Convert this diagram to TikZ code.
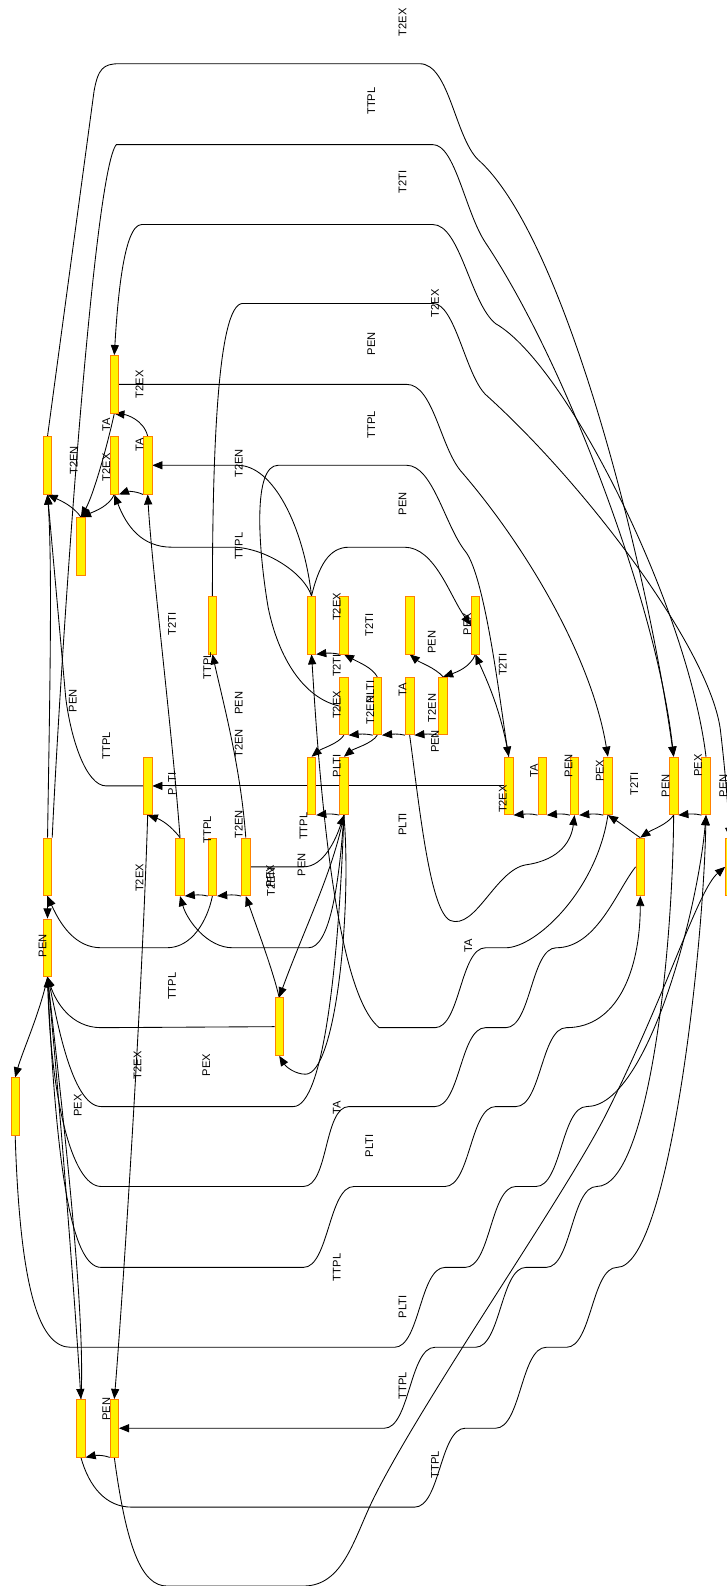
\documentclass[tikz,border=0pt]{standalone}
\usepackage{fontspec}
\setmainfont{Liberation Sans}
\usetikzlibrary{positioning}
\usetikzlibrary{arrows.meta}
\pgfdeclarelayer{wires}
\pgfsetlayers{wires,main}

\begin{document}
\begin{tikzpicture}[x = 1pt, y = -1pt,
	box/.style = {draw = orange, fill = yellow, line width = 0.7pt, minimum width = 8.5pt, minimum height = 57pt, inner sep = 0pt},
	lbl/.style = {rotate = 90, inner sep = 0pt, font = \fontsize{11}{12}\selectfont},
	plain/.style = {draw, black, line width = 0.85pt},
	edge/.style = {plain, -{Triangle[length = 10pt, width = 8pt]}}]
	\useasboundingbox (0, 0) rectangle (718, 1568);

	% nodes
	\node [box] (n01) at (113, 380) {};
	\node [box] (n02) at (47, 460) {};
	\node [box] (n03) at (113, 460) {};
	\node [box] (n04) at (146, 460) {};
	\node [box] (n05) at (80, 540) {};
	\node [box] (n06) at (210, 618) {};
	\node [box] (n07) at (308, 618) {};
	\node [box] (n08) at (340, 618) {};
	\node [box] (n09) at (405, 618) {};
	\node [box] (n10) at (470, 618) {};
	\node [box] (n11) at (340, 698) {};
	\node [box] (n12) at (373, 698) {};
	\node [box] (n13) at (405, 698) {};
	\node [box] (n14) at (438, 698) {};
	\node [box] (n15) at (146, 777) {};
	\node [box] (n16) at (308, 777) {};
	\node [box] (n17) at (340, 777) {};
	\node [box] (n18) at (503, 777) {};
	\node [box] (n19) at (536, 777) {};
	\node [box] (n20) at (568, 777) {};
	\node [box] (n21) at (601, 777) {};
	\node [box] (n22) at (666, 777) {};
	\node [box] (n23) at (698, 777) {};
	\node [box] (n24) at (47, 857) {};
	\node [box] (n25) at (178, 857) {};
	\node [box] (n26) at (210, 857) {};
	\node [box] (n27) at (243, 857) {};
	\node [box] (n28) at (633, 857) {};
	\node [box] (n29) at (721.5, 857) {};
	\node [box] (n30) at (47, 937) {};
	\node [box] (n31) at (276, 1015) {};
	\node [box] (n32) at (15, 1094) {};
	\node [box] (n33) at (80, 1412) {};
	\node [box] (n34) at (113, 1412) {};

	\begin{pgfonlayer}{wires}
	% short edges
	\draw [edge] (n04.north) .. controls (142, 415) and (125, 410) .. (n01.south);
	\draw [edge] (n01.south) .. controls (105, 445) and (92, 490) .. (n05.north);
	\draw [edge] (n04.south west) .. controls (133, 485) and (125, 486) .. (n03.south east);
	\draw [edge] (n03.south) .. controls (108, 500) and (95, 505) .. (n05.north);
	\draw [edge] (n05.north) .. controls (72, 500) and (60, 495) .. (n02.south);
	\draw [edge] (n07.north) .. controls (300, 565) and (260, 541) .. (230, 541) -- (170, 541) .. controls (140, 541) and (125, 520) .. (n03.south);
	\draw [edge] (n07.north) .. controls (300, 520) and (270, 460) .. (235, 460) -- (n04.east);
	\draw [edge] (n25.north) .. controls (170, 720) and (150, 560) .. (n04.south);
	\draw [edge] (n08.south west) .. controls (328, 645) and (320, 646) .. (n07.south east);
	\draw [edge] (n12.north) .. controls (368, 660) and (355, 655) .. (n08.south);
	\draw [edge] (n12.south west) .. controls (361, 725) and (353, 726) .. (n11.south east);
	\draw [edge] (n13.south west) .. controls (394, 725) and (386, 726) .. (n12.south east);
	\draw [edge] (n14.south west) .. controls (426, 725) and (418, 726) .. (n13.south east);
	\draw [edge] (n14.north) .. controls (430, 660) and (415, 655) .. (n09.south);
	\draw [edge] (n10.south) .. controls (465, 660) and (450, 665) .. (n14.north);
	\draw [edge] (n11.south) .. controls (335, 735) and (318, 740) .. (n16.north);
	\draw [edge] (n12.south) .. controls (368, 735) and (350, 740) .. (n17.north);
	\draw [edge] (n18.north) .. controls (495, 700) and (480, 670) .. (n10.south);
	\draw [edge] (n17.south west) .. controls (328, 804) and (320, 805) .. (n16.south east);
	\draw [edge] (n18.west) -- (n15.east);
	\draw [edge] (n19.south west) .. controls (525, 804) and (517, 805) .. (n18.south east);
	\draw [edge] (n20.south west) .. controls (557, 804) and (549, 805) .. (n19.south east);
	\draw [edge] (n21.south west) .. controls (590, 804) and (582, 805) .. (n20.south east);
	\draw [edge] (n23.south west) .. controls (687, 804) and (679, 805) .. (n22.south east);
	\draw [edge] (n28.north) .. controls (628, 825) and (615, 815) .. (n21.south);
	\draw [edge] (n22.south) .. controls (660, 815) and (645, 820) .. (n28.north);
	\draw [edge] (n26.south west) .. controls (199, 884) and (191, 885) .. (n25.south east);
	\draw [edge] (n27.south west) .. controls (232, 884) and (224, 885) .. (n26.south east);
	\draw [edge] (n27.north) .. controls (238, 760) and (222, 700) .. (n06.south);
	\draw [edge] (n27.east) -- (300, 857) .. controls (320, 857) and (332, 830) .. (n17.south);
	\draw [edge] (n17.south) .. controls (330, 860) and (300, 920) .. (n31.north);
	\draw [edge] (n31.north) .. controls (270, 960) and (255, 920) .. (n27.south);
	\draw [edge] (n17.south) .. controls (348, 900) and (332, 1062) .. (302, 1062) .. controls (292, 1062) and (283, 1055) .. (n31.south);
	\draw [edge] (n25.north) .. controls (168, 815) and (158, 810) .. (n15.south);
	\draw [edge] (n15.south) .. controls (140, 1000) and (120, 1300) .. (n34.north);
	\draw [edge] (n34.south west) .. controls (101, 1438) and (93, 1439) .. (n33.south east);
	\draw [edge] (n24.north) .. controls (49, 700) and (52, 560) .. (n02.south);
	\draw [edge] (n15.west) -- (105, 777) .. controls (85, 777) and (70, 730) .. (65, 690) -- (n02.south);
	\draw [edge] (n24.south) -- (n30.north);
	\draw [edge] (n30.south) .. controls (40, 1000) and (22, 1040) .. (n32.north);
	\draw [edge] (n30.south) .. controls (60, 1100) and (75, 1300) .. (n33.north);
	\draw [edge] (n33.north) .. controls (85, 1300) and (62, 1100) .. (n30.south);
	\draw [edge] (n13.south) .. controls (415, 800) and (425, 900) .. (445, 910) .. controls (470, 920) and (490, 860) .. (520, 855) .. controls (555, 850) and (565, 830) .. (n20.south);

	% long edges, top
	\draw [edge] (n02.north) -- (93, 90) .. controls (97, 68) and (102, 63) .. (118, 63) -- (415, 63) .. controls (445, 63) and (450, 140) .. (475, 160) .. controls (560, 240) and (640, 560) .. (n22.north);
	\draw [edge] (n24.north east) .. controls (60, 650) and (92, 170) .. (115, 143) -- (428, 143) .. controls (450, 143) and (460, 210) .. (480, 240) .. controls (560, 360) and (650, 600) .. (n22.north);
	\draw [edge] (n23.north) .. controls (680, 600) and (560, 360) .. (490, 320) .. controls (465, 300) and (455, 222) .. (428, 222) -- (140, 222) .. controls (122, 222) and (116, 300) .. (n01.north);
	\draw [edge] (n06.north) .. controls (210, 450) and (215, 300) .. (240, 300) -- (428, 300) .. controls (450, 300) and (460, 370) .. (480, 390) .. controls (580, 480) and (700, 640) .. (712, 720) .. controls (718, 770) and (720, 805) .. (n29.north);
	\draw [edge] (n01.east) -- (402, 380) .. controls (428, 380) and (435, 440) .. (455, 465) .. controls (520, 540) and (585, 650) .. (n21.north);
	\draw [edge] (n11.west) .. controls (300, 690) and (275, 650) .. (265, 600) .. controls (255, 540) and (250, 460) .. (275, 460) -- (402, 460) .. controls (428, 460) and (440, 520) .. (460, 545) .. controls (480, 570) and (495, 700) .. (n18.north);
	\draw [edge] (n07.north) .. controls (315, 560) and (325, 541) .. (345, 541) -- (400, 541) .. controls (430, 541) and (445, 590) .. (n10.west);

	% long edges, bottom
	\draw [edge] (n26.south) .. controls (205, 910) and (190, 937) .. (165, 937) -- (100, 937) .. controls (75, 937) and (60, 915) .. (n24.south);
	\draw [edge] (n17.south) .. controls (335, 880) and (325, 937) .. (305, 937) -- (230, 937) .. controls (205, 937) and (185, 910) .. (n25.south);
	\draw [edge] (n31.west) -- (100, 1016) .. controls (70, 1016) and (55, 990) .. (n30.south);
	\draw [edge] (n17.south) .. controls (335, 950) and (320, 1094) .. (290, 1094) -- (100, 1094) .. controls (70, 1094) and (55, 1000) .. (n30.south);
	\draw [edge] (n21.south) .. controls (590, 880) and (530, 937) .. (500, 937) -- (480, 937) .. controls (455, 937) and (455, 1016) .. (430, 1016) -- (375, 1016) .. controls (330, 980) and (315, 760) .. (n07.south);
	\draw [edge] (n28.west) .. controls (610, 880) and (590, 937) .. (550, 937) .. controls (525, 937) and (525, 1016) .. (500, 1016) -- (480, 1016) .. controls (455, 1016) and (455, 1094) .. (430, 1094) -- (345, 1094) .. controls (320, 1094) and (325, 1173) .. (300, 1173) -- (100, 1173) .. controls (70, 1173) and (50, 1080) .. (n30.south);
	\draw [edge] (n30.south) .. controls (55, 1150) and (70, 1253) .. (100, 1253) -- (300, 1253) .. controls (325, 1253) and (325, 1173) .. (350, 1173) -- (440, 1173) .. controls (465, 1173) and (465, 1094) .. (490, 1094) -- (510, 1094) .. controls (535, 1094) and (535, 1016) .. (560, 1016) .. controls (610, 1016) and (633, 960) .. (n28.south);
	\draw [edge] (n32.south) .. controls (20, 1280) and (40, 1332) .. (70, 1332) -- (390, 1332) .. controls (415, 1332) and (415, 1253) .. (440, 1253) -- (460, 1253) .. controls (485, 1253) and (485, 1173) .. (510, 1173) -- (530, 1173) .. controls (555, 1173) and (555, 1094) .. (580, 1094) .. controls (640, 1094) and (690, 900) .. (n23.south);
	\draw [edge] (n22.south) .. controls (665, 950) and (640, 1173) .. (590, 1173) .. controls (565, 1173) and (565, 1253) .. (540, 1253) -- (520, 1253) .. controls (495, 1253) and (495, 1332) .. (470, 1332) -- (430, 1332) .. controls (405, 1332) and (405, 1412) .. (380, 1412) -- (n34.east);
	\draw [edge] (n33.south) .. controls (88, 1470) and (105, 1490) .. (130, 1490) -- (410, 1490) .. controls (435, 1490) and (435, 1412) .. (460, 1412) -- (490, 1412) .. controls (515, 1412) and (515, 1332) .. (540, 1332) -- (560, 1332) .. controls (585, 1332) and (585, 1253) .. (610, 1253) .. controls (660, 1253) and (695, 950) .. (n23.south);
	\draw [edge] (n34.south) .. controls (125, 1530) and (140, 1568) .. (165, 1568) -- (300, 1568) .. controls (340, 1568) and (350, 1520) .. (370, 1480) .. controls (420, 1380) and (560, 1180) .. (600, 1100) .. controls (660, 980) and (690, 880) .. (n29.west);
	\end{pgfonlayer}

	% labels
	\node [lbl] (t01) at (398, 22) {T2EX};
	\node [lbl] (t02) at (367, 100) {TTPL};
	\node [lbl] (t03) at (398, 180) {T2TI};
	\node [lbl] (t04) at (430, 300) {T2EX};
	\node [lbl] (t05) at (367, 340) {PEN};
	\node [lbl] (t06) at (138, 380) {T2EX};
	\node [lbl] (t07) at (367, 420) {TTPL};
	\node [lbl] (t08) at (105, 420) {TA};
	\node [lbl] (t09) at (73, 455) {T2EN};
	\node [lbl] (t10) at (105, 462) {T2EX};
	\node [lbl] (t11) at (138, 440) {TA};
	\node [lbl] (t12) at (236, 458) {T2EN};
	\node [lbl] (t13) at (398, 498) {PEN};
	\node [lbl] (t14) at (236, 540) {TTPL};
	\node [lbl] (t15) at (333, 600) {T2EX};
	\node [lbl] (t16) at (365, 618) {T2TI};
	\node [lbl] (t17) at (462, 617) {PEX};
	\node [lbl] (t18) at (427, 635) {PEN};
	\node [lbl] (t19) at (170, 617) {T2TI};
	\node [lbl] (t20) at (333, 658) {T2TI};
	\node [lbl] (t21) at (497, 657) {T2TI};
	\node [lbl] (t22) at (205, 658) {TTPL};
	\node [lbl] (t23) at (398, 682) {TA};
	\node [lbl] (t24) at (366, 684) {PLTI};
	\node [lbl] (t25) at (366, 702) {T2EN};
	\node [lbl] (t26) at (333, 697) {T2EX};
	\node [lbl] (t27) at (427, 700) {T2EN};
	\node [lbl] (t28) at (430, 733) {PEN};
	\node [lbl] (t29) at (236, 695) {PEN};
	\node [lbl] (t30) at (72, 693) {PEN};
	\node [lbl] (t31) at (105, 737) {TTPL};
	\node [lbl] (t32) at (236, 735) {T2EN};
	\node [lbl] (t33) at (333, 757) {PLTI};
	\node [lbl] (t34) at (170, 775) {PLTI};
	\node [lbl] (t35) at (528, 762) {TA};
	\node [lbl] (t36) at (562, 757) {PEN};
	\node [lbl] (t37) at (593, 762) {PEX};
	\node [lbl] (t38) at (627, 775) {T2TI};
	\node [lbl] (t39) at (658, 777) {PEN};
	\node [lbl] (t40) at (690, 757) {PEX};
	\node [lbl] (t41) at (715, 777) {PEN};
	\node [lbl] (t42) at (497, 790) {T2EX};
	\node [lbl] (t43) at (398, 815) {PLTI};
	\node [lbl] (t44) at (300, 817) {TTPL};
	\node [lbl] (t45) at (205, 820) {TTPL};
	\node [lbl] (t46) at (236, 815) {T2EN};
	\node [lbl] (t47) at (298, 855) {PEN};
	\node [lbl] (t48) at (267, 866) {PEX};
	\node [lbl] (t49) at (268, 872) {T2EN};
	\node [lbl] (t50) at (138, 868) {T2EX};
	\node [lbl] (t51) at (42, 935) {PEN};
	\node [lbl] (t52) at (463, 935) {TA};
	\node [lbl] (t53) at (170, 975) {TTPL};
	\node [lbl] (t54) at (204, 1053) {PEX};
	\node [lbl] (t55) at (136, 1053) {T2EX};
	\node [lbl] (t56) at (77, 1093) {PEX};
	\node [lbl] (t57) at (333, 1095) {TA};
	\node [lbl] (t58) at (365, 1133) {PLTI};
	\node [lbl] (t59) at (333, 1253) {TTPL};
	\node [lbl] (t60) at (398, 1292) {PLTI};
	\node [lbl] (t61) at (398, 1370) {TTPL};
	\node [lbl] (t62) at (105, 1393) {PEN};
	\node [lbl] (t63) at (430, 1448) {TTPL};
\end{tikzpicture}
\end{document}
